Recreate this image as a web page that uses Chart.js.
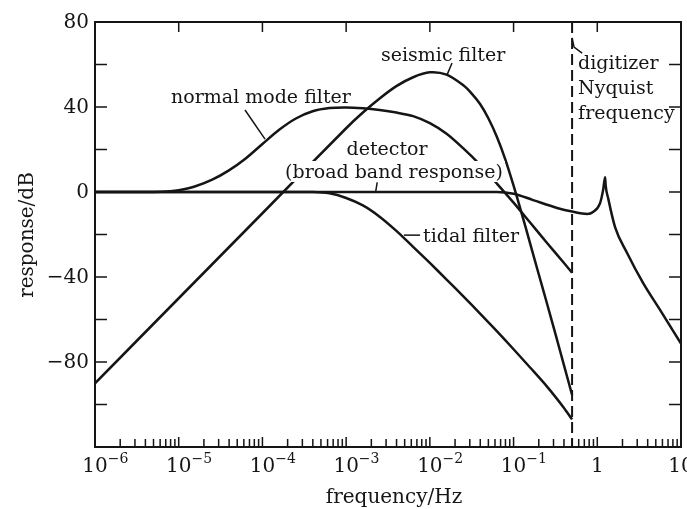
<!DOCTYPE html>
<html>
<head>
<meta charset="utf-8">
<script src="https://cdn.jsdelivr.net/npm/chart.js@4"></script>
<style>
  html, body { margin: 0; padding: 0; background: #fff; }
  #wrap { width: 687px; height: 509px; position: relative; }
</style>
</head>
<body>
<div id="wrap"><canvas id="chart"></canvas></div>
<script>
// values: frequency in Hz, response in dB
const seismicFreq = [1e-6, 1e-5, 1e-4, 1e-3, 1.585e-3, 2.512e-3, 3.981e-3, 6.31e-3, 0.01, 0.01585, 0.02512, 0.03162, 0.03981, 0.05012, 0.0631, 0.07943, 0.1, 0.1259, 0.1585, 0.1995, 0.2512, 0.3162, 0.3981, 0.5];
const seismicDb   = [-90, -50, -10, 30, 37.4, 44, 49.8, 54, 56.3, 55.2, 50.2, 46.3, 41.4, 34.6, 26, 15.5, 3, -10.5, -24.5, -38.6, -52.6, -66.8, -81.2, -95.5];

const normalFreq = [1e-6, 5e-6, 7.9e-6, 1e-5, 1.585e-5, 2.512e-5, 3.981e-5, 6.31e-5, 1e-4, 1.585e-4, 2.512e-4, 3.981e-4, 6.31e-4, 1e-3, 1.585e-3, 2.512e-3, 3.981e-3, 6.31e-3, 0.01, 0.01585, 0.02512, 0.03981, 0.0631, 0.1, 0.1585, 0.2512, 0.3981, 0.5];
const normalDb   = [0, 0, 0.3, 0.8, 2.7, 5.8, 10.2, 15.8, 22.6, 29.3, 34.6, 38, 39.5, 39.8, 39.4, 38.6, 37.4, 35.7, 32.4, 27.4, 20.5, 12.8, 4, -5, -14.5, -24, -33.3, -38];

const tidalFreq = [1e-6, 1e-4, 3.981e-4, 6.31e-4, 1e-3, 1.585e-3, 2.512e-3, 3.981e-3, 6.31e-3, 0.01, 0.01585, 0.02512, 0.03981, 0.0631, 0.1, 0.1585, 0.2512, 0.3981, 0.5];
const tidalDb   = [0, 0, 0, -0.6, -2.8, -6.3, -11.6, -18.3, -25.8, -33.4, -41.2, -49.1, -57.2, -65.5, -74, -82.7, -91.6, -101.5, -107];

const detectorFreq = [1e-6, 1e-3, 0.0316, 0.063, 0.1, 0.171, 0.331, 0.5, 0.755, 0.891, 1.08, 1.175, 1.24, 1.26, 1.35, 1.63, 2.27, 3.52, 5.62, 10];
const detectorDb   = [0, 0, 0, 0, -0.8, -3.8, -7.5, -9.2, -10.3, -9.4, -5.2, 1, 7, 3, -3, -16.5, -28.7, -42.8, -55.5, -71.3];

const nyquistFreq = 0.5;

// axes
const xTickValues = [1e-6, 1e-5, 1e-4, 1e-3, 1e-2, 1e-1, 1, 10];
const xTickLabels = ['10^−6', '10^−5', '10^−4', '10^−3', '10^−2', '10^−1', '1', '10'];
const yTickValues = [80, 40, 0, -40, -80];
const yTickLabels = ['80', '40', '0', '−40', '−80'];

const INK = '#151515';
const FONT = '"DejaVu Serif", serif';

const pts = (fs, ds) => fs.map((f, i) => ({ x: f, y: ds[i] }));

// smooth bezier for the filters; the detector keeps monotone so its alias peak stays sharp
const curve = (label, data, mode) => ({
  label,
  data,
  borderColor: INK,
  borderWidth: 2.5,
  pointRadius: 0,
  fill: false,
  tension: 0.3,
  cubicInterpolationMode: mode || 'default',
});

// text annotations, placed in data units (Hz, dB)
const labelItems = [
  { text: 'seismic filter', f: 0.0144, db: 61.6, align: 'center' },
  { text: 'normal mode filter', f: 9.6e-5, db: 41.9, align: 'center' },
  { text: 'detector', f: 3.08e-3, db: 17.4, align: 'center' },
  { text: '(broad band response)', f: 3.73e-3, db: 6.6, align: 'center', knockout: true },
  { text: 'tidal filter', f: 8.3e-3, db: -23.5, align: 'left' },
  { text: 'digitizer', f: 0.59, db: 57.9, align: 'left' },
  { text: 'Nyquist', f: 0.59, db: 46.1, align: 'left' },
  { text: 'frequency', f: 0.59, db: 34.4, align: 'left' },
];
const leaderLines = [
  [[0.0184, 60.7], [0.016, 55]],
  [[6.19e-5, 38.6], [1.074e-4, 24.9]],
  [[2.35e-3, 4.5], [2.25e-3, 0]],
  [[4.9e-3, -20.3], [7.64e-3, -20.3]],
  [[0.5, 72.5], [0.528, 68.2], [0.658, 65.4]],
];

const annotatePlugin = {
  id: 'annotate',
  afterDatasetsDraw(chart) {
    const { ctx, chartArea: a, scales: { x, y } } = chart;
    ctx.save();
    ctx.fillStyle = INK;
    ctx.strokeStyle = INK;

    // labels (the broad band one blanks the lines behind it, like the original)
    ctx.font = '19px ' + FONT;
    ctx.textBaseline = 'alphabetic';
    labelItems.forEach((l) => {
      const px = x.getPixelForValue(l.f);
      const py = y.getPixelForValue(l.db);
      const w = ctx.measureText(l.text).width;
      const left = l.align === 'center' ? px - w / 2 : px;
      if (l.knockout) {
        ctx.fillStyle = '#fff';
        ctx.fillRect(left - 2, py - 17, w + 4, 21);
        ctx.fillStyle = INK;
      }
      ctx.textAlign = 'left';
      ctx.fillText(l.text, left, py);
    });

    ctx.lineWidth = 1.5;
    leaderLines.forEach((seg) => {
      ctx.beginPath();
      seg.forEach(([f, db], i) => {
        const px = x.getPixelForValue(f);
        const py = y.getPixelForValue(db);
        if (i === 0) ctx.moveTo(px, py);
        else ctx.lineTo(px, py);
      });
      ctx.stroke();
    });

    // frame
    ctx.lineWidth = 2;
    ctx.strokeRect(a.left, a.top, a.right - a.left, a.bottom - a.top);

    // ticks, all pointing inwards
    ctx.lineWidth = 1.5;
    ctx.beginPath();
    for (let v = -100; v < 80; v += 20) {
      const py = y.getPixelForValue(v);
      ctx.moveTo(a.left, py);
      ctx.lineTo(a.left + 12, py);
      ctx.moveTo(a.right, py);
      ctx.lineTo(a.right - 12, py);
    }
    for (let d = -6; d <= 0; d++) {
      for (let m = 1; m <= 9; m++) {
        const v = m * Math.pow(10, d);
        const px = x.getPixelForValue(v);
        if (px <= a.left + 1) continue;
        ctx.moveTo(px, a.bottom);
        ctx.lineTo(px, a.bottom - (m === 1 ? 10 : 8));
      }
      if (d > -6) {
        const px = x.getPixelForValue(Math.pow(10, d));
        ctx.moveTo(px, a.top);
        ctx.lineTo(px, a.top + 10);
      }
    }
    ctx.stroke();

    // y tick labels
    ctx.font = '20px ' + FONT;
    ctx.textAlign = 'right';
    ctx.textBaseline = 'middle';
    yTickValues.forEach((v, i) => {
      ctx.fillText(yTickLabels[i], a.left - 6, y.getPixelForValue(v) + 1);
    });

    // x tick labels with raised exponent
    ctx.textBaseline = 'alphabetic';
    xTickValues.forEach((v, i) => {
      const [base, exp] = xTickLabels[i].split('^');
      const px = x.getPixelForValue(v);
      ctx.font = '20px ' + FONT;
      ctx.textAlign = 'center';
      ctx.fillText(base, px, a.bottom + 25);
      if (exp) {
        const w = ctx.measureText(base).width;
        ctx.font = '14px ' + FONT;
        ctx.textAlign = 'left';
        ctx.fillText(exp, px + w / 2, a.bottom + 16);
      }
    });

    // axis titles
    ctx.font = '20px ' + FONT;
    ctx.textAlign = 'center';
    ctx.fillText('frequency/Hz', 394, 503);
    ctx.translate(33, 235);
    ctx.rotate(-Math.PI / 2);
    ctx.fillText('response/dB', 0, 0);
    ctx.restore();
  },
};

new Chart(document.getElementById('chart'), {
  type: 'line',
  data: {
    datasets: [
      curve('seismic filter', pts(seismicFreq, seismicDb)),
      curve('normal mode filter', pts(normalFreq, normalDb)),
      curve('tidal filter', pts(tidalFreq, tidalDb)),
      curve('detector (broad band response)', pts(detectorFreq, detectorDb), 'monotone'),
      {
        label: 'digitizer Nyquist frequency',
        data: [{ x: nyquistFreq, y: 80 }, { x: nyquistFreq, y: -120 }],
        borderColor: INK,
        borderWidth: 2,
        borderDash: [11, 5],
        pointRadius: 0,
        tension: 0,
      },
    ],
  },
  plugins: [annotatePlugin],
  options: {
    responsive: true,
    maintainAspectRatio: false,
    devicePixelRatio: 1,
    animation: false,
    events: [],
    layout: { padding: { left: 95, right: 6, top: 22, bottom: 62 } },
    plugins: { legend: { display: false }, tooltip: { enabled: false } },
    scales: {
      x: { type: 'logarithmic', min: 1e-6, max: 10, display: false },
      y: { type: 'linear', min: -120, max: 80, display: false },
    },
  },
});
</script>
</body>
</html>
